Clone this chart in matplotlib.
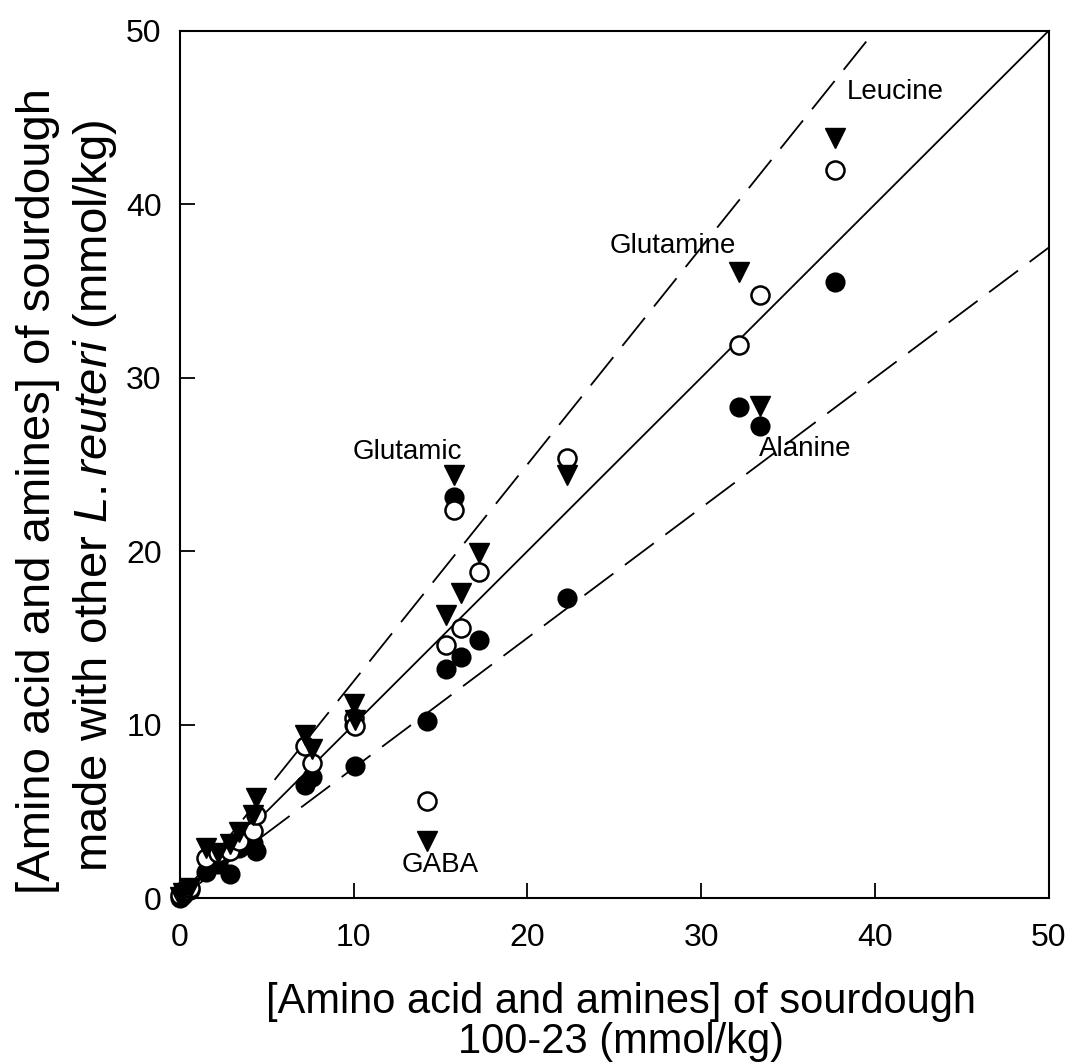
import numpy as np
import matplotlib
matplotlib.use("Agg")
from matplotlib import pyplot as plt

plt.rcParams['font.family'] = ['Liberation Sans', 'DejaVu Sans']
plt.rcParams['mathtext.fontset'] = 'custom'
plt.rcParams['mathtext.rm'] = 'Liberation Sans'
plt.rcParams['mathtext.it'] = 'Liberation Sans:italic'

# amino acids / amines in sourdough 100-23 (x) vs. other L. reuteri strains (y)
x_100_23 = [0.0, 0.2, 0.6, 1.5, 2.2, 2.9, 3.4, 4.2, 4.4, 7.2, 7.6, 10.0, 10.1,
            14.2, 15.3, 15.8, 16.2, 17.2, 22.3, 32.2, 33.4, 37.7]
y_filled = [0.0, 0.2, 0.5, 1.5, 2.0, 1.4, 2.9, 3.2, 2.7, 6.5, 7.0, 10.0, 7.6,
            10.2, 13.2, 23.1, 13.9, 14.9, 17.3, 28.3, 27.2, 35.5]
y_open = [0.2, 0.4, 0.6, 2.3, 2.6, 2.7, 3.3, 3.9, 4.8, 8.8, 7.8, 10.4, 9.9,
          5.6, 14.6, 22.4, 15.6, 18.8, 25.4, 31.9, 34.8, 42.0]
y_tri = [0.1, 0.3, 0.6, 2.9, 2.6, 3.1, 3.8, 4.8, 5.8, 9.4, 8.6, 11.2, 10.3,
         3.3, 16.3, 24.4, 17.6, 19.9, 24.4, 36.1, 28.4, 43.8]

labels = ['Leucine', 'Glutamine', 'Glutamic', 'Alanine', 'GABA']
label_x = [41.2, 28.4, 13.1, 36.0, 15.0]
label_y = [46.5, 37.6, 25.7, 25.9, 1.9]

fig = plt.figure(figsize=(10.70, 10.63), dpi=100)
ax = fig.add_axes([0.168, 0.155, 0.812, 0.816])

# 1:1 line and +/-25 % lines
xx = np.array([0, 50])
ax.plot(xx, xx, color='black', lw=1.3, zorder=1)
ax.plot(xx, 1.25 * xx, color='black', lw=1.3, dashes=(20, 8), zorder=1)
ax.plot(xx, 0.75 * xx, color='black', lw=1.3, dashes=(20, 8), zorder=1)

ax.plot(x_100_23, y_filled, 'o', ms=13, mfc='black', mec='black', mew=1.5,
        zorder=3, clip_on=False)
ax.plot(x_100_23, y_open, 'o', ms=13, mfc='white', mec='black', mew=1.8,
        zorder=3, clip_on=False)
ax.plot(x_100_23, y_tri, 'v', ms=14, mfc='black', mec='black', mew=1.0,
        zorder=3, clip_on=False)

for t, lx, ly in zip(labels, label_x, label_y):
    ax.text(lx, ly, t, fontsize=20, ha='center', va='center', zorder=4)

ax.set_xlim(0, 50)
ax.set_ylim(0, 50)
ax.set_xticks([0, 10, 20, 30, 40, 50])
ax.set_yticks([0, 10, 20, 30, 40, 50])
ax.tick_params(direction='in', length=11, width=1.3, labelsize=23)
ax.tick_params(axis='x', pad=18)
ax.tick_params(axis='y', pad=13)
for s in ax.spines.values():
    s.set_linewidth(1.5)

# axis titles
fig.text(0.580, 0.0570, '[Amino acid and amines] of sourdough',
         fontsize=30, ha='center', va='center')
fig.text(0.580, 0.0195, '100-23 (mmol/kg)', fontsize=30, ha='center', va='center')
fig.text(0.0355, 0.538, '[Amino acid and amines] of sourdough',
         fontsize=34, rotation=90, ha='center', va='center')
fig.text(0.0888, 0.534, 'made with other $\\mathit{L.reuteri}$ (mmol/kg)',
         fontsize=34, rotation=90, ha='center', va='center')

fig.savefig('out.png', dpi=100)
